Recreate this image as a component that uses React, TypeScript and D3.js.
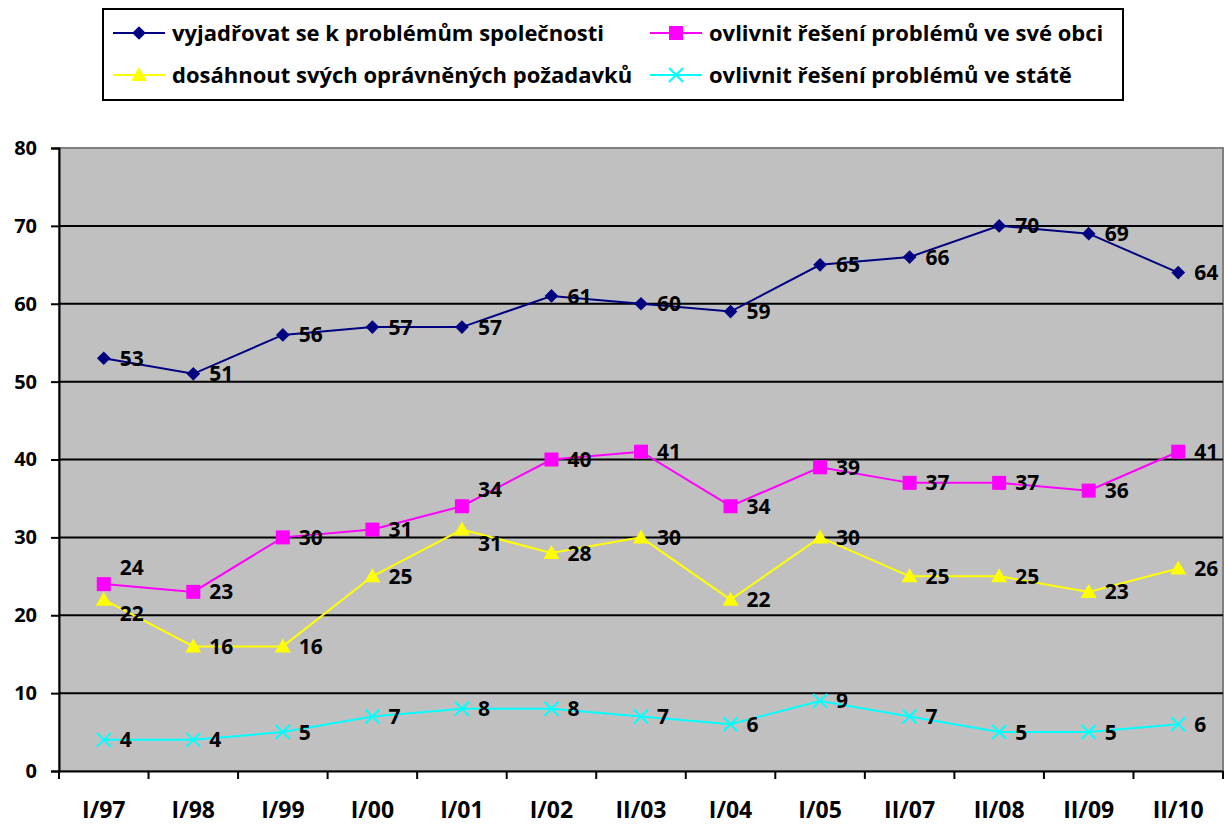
import React, { useEffect, useRef } from "react";
import * as d3 from "d3";

const periods = ["I/97", "I/98", "I/99", "I/00", "I/01", "I/02", "II/03", "I/04", "I/05", "II/07", "II/08", "II/09", "II/10"];
const spolecnost = [53, 51, 56, 57, 57, 61, 60, 59, 65, 66, 70, 69, 64];
const obec = [24, 23, 30, 31, 34, 40, 41, 34, 39, 37, 37, 36, 41];
const pozadavky = [22, 16, 16, 25, 31, 28, 30, 22, 30, 25, 25, 23, 26];
const stat = [4, 4, 5, 7, 8, 8, 7, 6, 9, 7, 5, 5, 6];
const yTicks = [0, 10, 20, 30, 40, 50, 60, 70, 80];

const series = [
  { name: "vyjadřovat se k problémům společnosti", values: spolecnost, color: "#000080", marker: "diamond" },
  { name: "ovlivnit řešení problémů ve své obci", values: obec, color: "#FF00FF", marker: "square" },
  { name: "dosáhnout svých oprávněných požadavků", values: pozadavky, color: "#FFFF00", marker: "triangle" },
  { name: "ovlivnit řešení problémů ve státě", values: stat, color: "#00FFFF", marker: "cross" },
];

const W = 1226;
const H = 825;
const FONT = "'Open Sans', Lato, sans-serif";

function drawMarker(g: d3.Selection<SVGGElement, unknown, null, undefined>, type: string, x: number, y: number, color: string) {
  if (type === "diamond") {
    g.append("path")
      .attr("d", d3.symbol(d3.symbolDiamond2, 120)())
      .attr("transform", `translate(${x},${y})`)
      .attr("fill", color);
  } else if (type === "square") {
    g.append("rect")
      .attr("x", x - 7).attr("y", y - 7)
      .attr("width", 14).attr("height", 14)
      .attr("fill", color);
  } else if (type === "triangle") {
    g.append("path")
      .attr("d", `M${x},${y - 8}L${x + 8},${y + 6}L${x - 8},${y + 6}Z`)
      .attr("fill", color);
  } else {
    g.append("path")
      .attr("d", `M${x - 7},${y - 7}L${x + 7},${y + 7}M${x - 7},${y + 7}L${x + 7},${y - 7}`)
      .attr("stroke", color)
      .attr("stroke-width", 2);
  }
}

const App: React.FC = () => {
  const svgRef = useRef<SVGSVGElement>(null);

  useEffect(() => {
    if (!svgRef.current) return;
    const svg = d3.select(svgRef.current);
    svg.selectAll("*").remove();

    const left = 59, right = 1223, top = 148, bottom = 771;

    const x = d3.scaleBand().domain(periods).range([left, right]);
    const y = d3.scaleLinear().domain([0, 80]).range([bottom, top]);

    // plot background
    svg.append("rect")
      .attr("x", left).attr("y", top)
      .attr("width", right - left).attr("height", bottom - top)
      .attr("fill", "#C0C0C0")
      .attr("stroke", "#808080")
      .attr("stroke-width", 2);

    // gridlines
    svg.append("g")
      .selectAll("line")
      .data(yTicks.filter((t) => t > 0 && t < 80))
      .join("line")
      .attr("x1", left).attr("x2", right)
      .attr("y1", (d) => y(d)).attr("y2", (d) => y(d))
      .attr("stroke", "#000").attr("stroke-width", 2);

    // y axis
    const yAxis = svg.append("g")
      .attr("transform", `translate(${left},0)`)
      .call(d3.axisLeft(y).tickValues(yTicks).tickSize(8).tickPadding(14).tickFormat(d3.format("d")));
    yAxis.select(".domain").attr("stroke", "#000").attr("stroke-width", 2);
    yAxis.selectAll(".tick line").attr("stroke", "#000").attr("stroke-width", 2);
    yAxis.selectAll("text")
      .attr("font-family", FONT).attr("font-size", 20).attr("font-weight", "bold").attr("fill", "#000");

    // x axis
    const xAxis = svg.append("g")
      .attr("transform", `translate(0,${bottom})`)
      .call(d3.axisBottom(x).tickSize(0).tickPadding(31));
    xAxis.select(".domain").attr("stroke", "#000").attr("stroke-width", 2);
    xAxis.selectAll("text")
      .attr("font-family", FONT).attr("font-size", 23).attr("font-weight", "bold").attr("fill", "#000");
    svg.append("g")
      .selectAll("line")
      .data(d3.range(periods.length + 1))
      .join("line")
      .attr("x1", (i) => left + i * x.step()).attr("x2", (i) => left + i * x.step())
      .attr("y1", bottom).attr("y2", bottom + 8)
      .attr("stroke", "#000").attr("stroke-width", 2);

    const cx = (i: number) => (x(periods[i]) as number) + x.bandwidth() / 2;
    const line = d3.line<number>().x((_, i) => cx(i)).y((d) => y(d));

    // label nudges where two labels at the same period sit close together
    const labelShift = series.map(() => periods.map(() => 0));
    periods.forEach((_, i) => {
      for (let a = 0; a < series.length; a++) {
        for (let b = a + 1; b < series.length; b++) {
          const ya = y(series[a].values[i]);
          const yb = y(series[b].values[i]);
          if (Math.abs(ya - yb) < 30) {
            const upper = ya < yb ? a : b;
            const lower = ya < yb ? b : a;
            labelShift[upper][i] = -17;
            labelShift[lower][i] = 14;
          }
        }
      }
    });

    series.forEach((s, si) => {
      const g = svg.append("g");
      g.append("path")
        .datum(s.values)
        .attr("fill", "none")
        .attr("stroke", s.color)
        .attr("stroke-width", 2)
        .attr("d", line);
      s.values.forEach((v, i) => drawMarker(g, s.marker, cx(i), y(v), s.color));
      g.selectAll("text")
        .data(s.values)
        .join("text")
        .attr("x", (_, i) => cx(i) + 16)
        .attr("y", (d, i) => y(d) + labelShift[si][i])
        .attr("dy", "0.36em")
        .attr("font-family", FONT).attr("font-size", 21).attr("font-weight", "bold")
        .attr("fill", "#000")
        .text((d) => d);
    });

    // legend
    const lg = svg.append("g");
    lg.append("rect")
      .attr("x", 103).attr("y", 9)
      .attr("width", 1020).attr("height", 91)
      .attr("fill", "#fff").attr("stroke", "#000").attr("stroke-width", 2);
    const legendPos = [
      [113, 33], [650, 33], [113, 75], [650, 75],
    ];
    series.forEach((s, i) => {
      const [lx, ly] = legendPos[i];
      lg.append("line")
        .attr("x1", lx).attr("x2", lx + 52)
        .attr("y1", ly).attr("y2", ly)
        .attr("stroke", s.color).attr("stroke-width", 2);
      drawMarker(lg, s.marker, lx + 26, ly, s.color);
      lg.append("text")
        .attr("x", lx + 59).attr("y", ly)
        .attr("dy", "0.36em")
        .attr("font-family", FONT).attr("font-size", 22).attr("font-weight", "bold")
        .attr("fill", "#000")
        .text(s.name);
    });
  }, []);

  return <svg ref={svgRef} width={W} height={H} style={{ position: "absolute", left: 0, top: 0 }} />;
};

export default App;
